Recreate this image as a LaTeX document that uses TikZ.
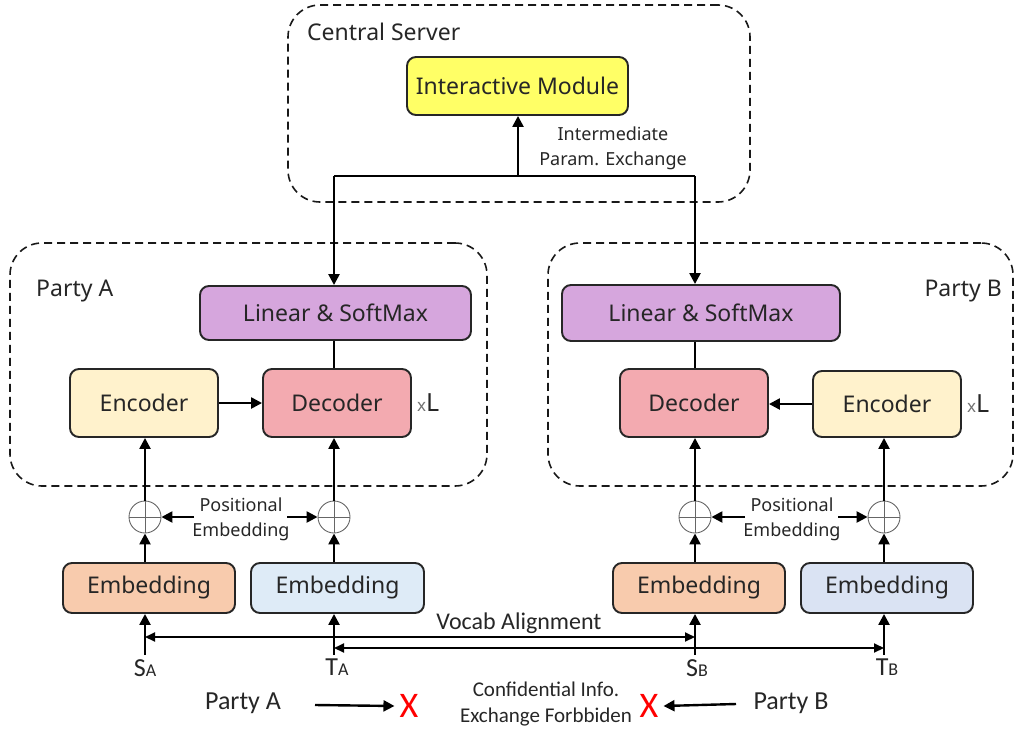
\documentclass[tikz,border=0pt]{standalone}
\usepackage{fontspec}
\setmainfont{Noto Sans}
\newfontfamily\carl{Carlito}
\usetikzlibrary{arrows.meta}
\definecolor{cyel}{HTML}{FFFF66}
\definecolor{cpur}{HTML}{D6A6DD}
\definecolor{cenc}{HTML}{FFF2CC}
\definecolor{cdec}{HTML}{F3AAB0}
\definecolor{corg}{HTML}{F8CBAD}
\definecolor{cblu}{HTML}{DEEBF7}
\definecolor{cblu2}{HTML}{DAE3F3}
\definecolor{ctxt}{HTML}{262626}
\begin{document}
\begin{tikzpicture}[x=1pt,y=-1pt,
  blk/.style={draw=ctxt, line width=1.9pt, rounded corners=9pt, text=ctxt,
    font=\fontsize{23}{27}\selectfont, inner sep=0pt},
  grp/.style={draw=black!90, line width=1.6pt, dash pattern=on 8pt off 5pt, rounded corners=32pt, inner sep=0pt},
  arr/.style={-{Triangle[length=11pt,width=11pt]}, line width=2.4pt},
  darr/.style={{Triangle[length=10pt,width=9pt]}-{Triangle[length=10pt,width=9pt]}, line width=2pt},
  pl/.style={circle, draw=black!60, line width=0.9pt, minimum size=32pt, inner sep=0pt},
  lbl/.style={text=ctxt, inner sep=0pt},
  mid/.style={lbl, font=\fontsize{18}{25}\selectfont, align=center},
  big/.style={lbl, font=\fontsize{23}{27}\selectfont},
  cb/.style={lbl, font=\carl\fontsize{24}{27}\selectfont},
  rx/.style={inner sep=0pt, inner xsep=5pt, text=red, font=\carl\fontsize{36}{36}\selectfont},
]
\useasboundingbox (0,0) rectangle (1017,736);

% groups
\node[grp, minimum width=462, minimum height=197] (cs) at (519,103.5) {};
\node[grp, minimum width=477, minimum height=243] (gA) at (248.5,364.5) {};
\node[grp, minimum width=465, minimum height=243] (gB) at (780.5,364.5) {};
\node[big, anchor=west] (csl) at (307,32) {Central Server};
\node[big, anchor=west] (gAl) at (36,291) {Party A};
\node[big, anchor=east] (gBl) at (1002,291) {Party B};

% blocks
\node[blk, fill=cyel, minimum width=221, minimum height=58] (im) at (517.5,86) {Interactive Module};
\node[blk, fill=cpur, minimum width=271, minimum height=54] (linA) at (335.5,313) {Linear \& SoftMax};
\node[blk, fill=cpur, minimum width=278, minimum height=56] (linB) at (701,313) {Linear \& SoftMax};
\node[blk, fill=cenc, minimum width=148, minimum height=68] (encA) at (144,403) {Encoder};
\node[blk, fill=cdec, minimum width=148, minimum height=68] (decA) at (337,403) {Decoder};
\node[blk, fill=cdec, minimum width=148, minimum height=68] (decB) at (694,403) {Decoder};
\node[blk, fill=cenc, minimum width=148, minimum height=66] (encB) at (887,404) {Encoder};
\node[blk, fill=corg, minimum width=172, minimum height=50] (embA1) at (149,588) {Embedding};
\node[blk, fill=cblu, minimum width=173, minimum height=50] (embA2) at (337.5,588) {Embedding};
\node[blk, fill=corg, minimum width=172, minimum height=50] (embB1) at (699,588) {Embedding};
\node[blk, fill=cblu2, minimum width=172, minimum height=50] (embB2) at (887,588) {Embedding};

% xL
\node[lbl, anchor=west] (xLA) at (417,403) {{\fontsize{17}{20}\selectfont\color{black!55}x}{\fontsize{25}{27}\selectfont L}};
\node[lbl, anchor=west] (xLB) at (967,404) {{\fontsize{17}{20}\selectfont\color{black!55}x}{\fontsize{25}{27}\selectfont L}};

% central connections
\coordinate (jL) at (334,176);
\coordinate (jM) at (518,176);
\coordinate (jR) at (695,176);
\draw[line width=2.4pt] (jL) -- (jR);
\draw[arr] (jM) -- (jM |- im.south);
\draw[arr] (jL) -- (jL |- linA.north);
\draw[arr] (jR) -- (jR |- linB.north);
\node[mid] (ipe) at (613,148) {Intermediate\\Param. Exchange};

% inside parties
\draw[line width=2.4pt] (linA.south -| jL) -- (jL |- decA.north);
\draw[line width=2.4pt] (linB.south -| jR) -- (jR |- decB.north);
\draw[arr] (encA.east) -- (decA.west |- encA.east);
\draw[arr] (encB.west) -- (decB.east |- encB.west);

% plus circles
\node[pl] (pA1) at (145,517) {};
\node[pl] (pA2) at (334,517) {};
\node[pl] (pB1) at (695,517) {};
\node[pl] (pB2) at (884,517) {};
\foreach \p in {pA1,pA2,pB1,pB2}{
  \draw[black!60, line width=0.9pt] (\p.north) -- (\p.south) (\p.west) -- (\p.east);
}
\draw[arr] (pA1.north) -- (pA1 |- encA.south);
\draw[arr] (pA2.north) -- (pA2 |- decA.south);
\draw[arr] (pB1.north) -- (pB1 |- decB.south);
\draw[arr] (pB2.north) -- (pB2 |- encB.south);
\draw[arr] (pA1 |- embA1.north) -- (pA1.south);
\draw[arr] (pA2 |- embA2.north) -- (pA2.south);
\draw[arr] (pB1 |- embB1.north) -- (pB1.south);
\draw[arr] (pB2 |- embB2.north) -- (pB2.south);

\node[mid] (peA) at (241,519) {Positional\\Embedding};
\node[mid] (peB) at (792,519) {Positional\\Embedding};
\coordinate (peAl) at (194,517);
\coordinate (peAr) at (287,517);
\coordinate (peBl) at (745,517);
\coordinate (peBr) at (838,517);
\draw[arr] (peAl) -- (pA1.east);
\draw[arr] (peAr) -- (pA2.west);
\draw[arr] (peBl) -- (pB1.east);
\draw[arr] (peBr) -- (pB2.west);

% inputs
\coordinate (sA) at (145,655);
\coordinate (tA) at (334,655);
\coordinate (sB) at (695,655);
\coordinate (tB) at (884,655);
\draw[arr] (sA) -- (sA |- embA1.south);
\draw[arr] (tA) -- (tA |- embA2.south);
\draw[arr] (sB) -- (sB |- embB1.south);
\draw[arr] (tB) -- (tB |- embB2.south);
\coordinate (vA1) at (145,637);
\coordinate (vB1) at (695,637);
\coordinate (vA2) at (334,648);
\coordinate (vB2) at (884,648);
\draw[darr] (vA1) -- (vB1);
\draw[darr] (vA2) -- (vB2);
\node[cb] (va) at (519,623) {Vocab Alignment};

\node[lbl, anchor=north, font=\carl] (sAl) at (145,659) {{\fontsize{26}{28}\selectfont S}{\fontsize{18}{20}\selectfont A}};
\node[lbl, anchor=north, font=\carl] (tAl) at (337,659) {{\fontsize{26}{28}\selectfont T}{\fontsize{18}{20}\selectfont A}};
\node[lbl, anchor=north, font=\carl] (sBl) at (697,659) {{\fontsize{26}{28}\selectfont S}{\fontsize{18}{20}\selectfont B}};
\node[lbl, anchor=north, font=\carl] (tBl) at (887,659) {{\fontsize{26}{28}\selectfont T}{\fontsize{18}{20}\selectfont B}};

% bottom legend
\node[cb, font=\carl\fontsize{26}{28}\selectfont] (bpa) at (243,703) {Party A};
\node[cb, font=\carl\fontsize{26}{28}\selectfont] (bpb) at (791,703) {Party B};
\node[rx] (xa) at (409,706) {X};
\node[rx] (xb) at (649,706) {X};
\node[cb, align=center, font=\carl\fontsize{21}{26}\selectfont] (cif) at (546,704) {Confidential Info.\\Exchange Forbbiden};
\coordinate (ba1) at (315,705);
\coordinate (bb1) at (736,704);
\draw[arr] (ba1) -- (xa.west);
\draw[arr] (bb1) -- (xb.east);
\end{tikzpicture}
\end{document}
